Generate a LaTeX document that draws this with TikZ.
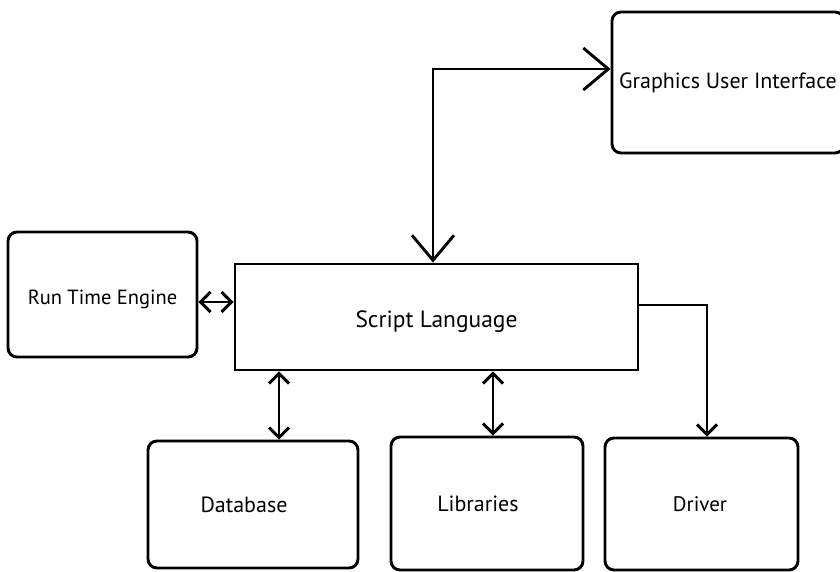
\documentclass[tikz,border=0pt]{standalone}
\usepackage{fontspec}
\setmainfont{PT Sans}
\usetikzlibrary{arrows.meta}
\tikzset{
  box/.style={draw, line width=2.9pt, rounded corners=9pt, inner sep=0pt, font=\fontsize{22}{26}\selectfont},
  sqbox/.style={draw, line width=2.9pt, inner sep=0pt, font=\fontsize{23.5}{27}\selectfont},
  conn/.style={line width=2.9pt},
  bigtip/.style={{Straight Barb[length=25pt,width=42pt]}-{Straight Barb[length=25pt,width=42pt]}},
  smalltwo/.style={{Straight Barb[length=10pt,width=20pt]}-{Straight Barb[length=10pt,width=20pt]}},
  smallone/.style={-{Straight Barb[length=10pt,width=20pt]}}
}
\begin{document}
\begin{tikzpicture}[x=1pt,y=-1pt]
\clip (0,0) rectangle (840,572);
\node[box, minimum width=232pt, minimum height=141pt] (gui) at (728,82.5) {Graphics User Interface};
\node[box, minimum width=189pt, minimum height=125pt, text height=24pt, text depth=5pt, font=\fontsize{20.5}{24}\selectfont] (rte) at (102.5,294.5) {Run Time Engine};
\node[sqbox, minimum width=403pt, minimum height=106pt, text height=27pt, text depth=6pt] (script) at (436.5,317) {Script Language};
\node[box, minimum width=210pt, minimum height=127pt] (db) at (253,504.5) {Database\hspace*{18pt}};
\node[box, minimum width=192pt, minimum height=133pt] (lib) at (487,503.5) {Libraries\hspace*{18pt}};
\node[box, minimum width=193pt, minimum height=132pt, font=\fontsize{21}{25}\selectfont] (drv) at (701.5,504) {Driver\hspace*{3pt}};
\draw[conn, bigtip] ([xshift=-3.5pt]script.north) |- ([yshift=13.5pt]gui.west);
\draw[conn, smalltwo] ([yshift=-7.5pt]rte.east) -- ([yshift=-7.5pt]rte.east -| script.west);
\draw[conn, smallone] ([yshift=12pt]script.east) -| ([xshift=5.5pt]drv.north);
\draw[conn, smalltwo] ([xshift=26pt]db.north |- script.south) -- ([xshift=26pt]db.north);
\draw[conn, smalltwo] ([xshift=6pt]lib.north |- script.south) -- ([xshift=6pt]lib.north);
\end{tikzpicture}
\end{document}
